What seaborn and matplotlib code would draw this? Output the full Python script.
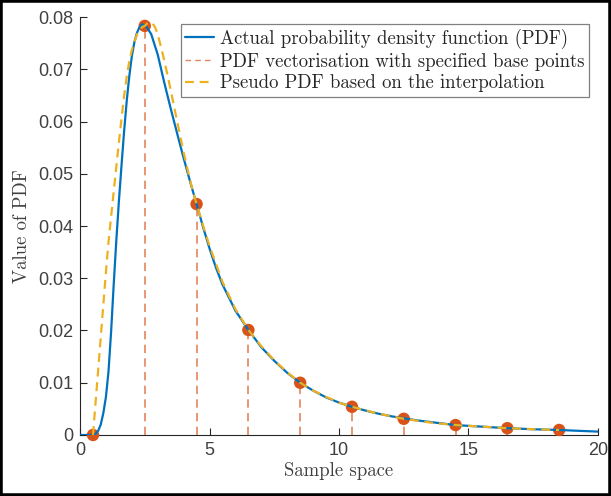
import matplotlib
matplotlib.use("Agg")
import matplotlib.pyplot as plt
import seaborn as sns
import pandas as pd
from matplotlib.lines import Line2D
from matplotlib.patches import Rectangle

# ---- data ----
pdf_x = [0.0, 0.5, 0.6, 0.7, 0.8, 0.9, 1.0, 1.1, 1.2, 1.3, 1.4, 1.5, 1.6, 1.7,
         1.8, 1.9, 2.0, 2.1, 2.2, 2.3, 2.4, 2.5, 2.6, 2.75, 3.0, 3.25, 3.5,
         3.75, 4.0, 4.25, 4.5, 4.75, 5.0, 5.25, 5.5, 6.0, 6.5, 7.0, 7.5, 8.0,
         8.5, 9.0, 9.5, 10.0, 10.5, 11.0, 11.5, 12.0, 12.5, 13.0, 13.5, 14.0,
         14.5, 15.5, 16.5, 17.5, 18.5, 19.25, 20.0]
pdf_y = [0.0, 0.0, 0.0002, 0.0008, 0.0020, 0.0042, 0.0073, 0.0122, 0.0198,
         0.0288, 0.0372, 0.0447, 0.0515, 0.0580, 0.0638, 0.0686, 0.0725,
         0.0752, 0.0770, 0.0781, 0.0786, 0.0784, 0.0779, 0.0767, 0.0728,
         0.0675, 0.0625, 0.0577, 0.0530, 0.0485, 0.0442, 0.0398, 0.0357,
         0.0320, 0.0288, 0.0238, 0.0201, 0.0168, 0.0142, 0.0119, 0.0100,
         0.0085, 0.0072, 0.0062, 0.0054, 0.0047, 0.0041, 0.0036, 0.0032,
         0.0028, 0.0025, 0.0022, 0.0019, 0.0016, 0.0013, 0.0011, 0.00096,
         0.0008, 0.00065]

interp_x = [0.5, 0.6, 0.7, 0.8, 0.9, 1.0, 1.1, 1.2, 1.3, 1.4, 1.5, 1.6, 1.7,
            1.8, 1.9, 2.0, 2.2, 2.4, 2.5, 2.6, 2.7, 2.8, 2.9, 3.0, 3.2, 3.4,
            3.6, 3.8, 4.0, 4.2, 4.35, 4.5, 4.75, 5.0, 5.5, 6.0, 6.5, 7.0, 7.5,
            8.0, 8.5, 9.0, 9.5, 10.0, 10.5, 11.5, 12.5, 13.5, 14.5, 15.5,
            16.5, 17.5, 18.5]
interp_y = [0.0, 0.0063, 0.0124, 0.0187, 0.0250, 0.0312, 0.0370, 0.0418,
            0.0466, 0.0513, 0.0560, 0.0605, 0.0648, 0.0685, 0.0715, 0.0737,
            0.0767, 0.0781, 0.0783, 0.0788, 0.0790, 0.0788, 0.0780, 0.0767,
            0.0728, 0.0684, 0.0636, 0.0588, 0.0541, 0.0498, 0.0468, 0.0442,
            0.0401, 0.0362, 0.0293, 0.0241, 0.0201, 0.0170, 0.0143, 0.0120,
            0.0100, 0.0085, 0.0073, 0.0062, 0.0054, 0.0041, 0.0031, 0.0024,
            0.0019, 0.0016, 0.0013, 0.0011, 0.00096]

base_x = [0.5, 2.5, 4.5, 6.5, 8.5, 10.5, 12.5, 14.5, 16.5, 18.5]
base_y = [0.0, 0.0783, 0.0442, 0.0201, 0.0100, 0.0054, 0.0031, 0.0019,
          0.0013, 0.00096]

x_ticks = [0, 5, 10, 15, 20]
y_ticks = [0, 0.01, 0.02, 0.03, 0.04, 0.05, 0.06, 0.07, 0.08]
y_tick_labels = ["0", "0.01", "0.02", "0.03", "0.04", "0.05", "0.06", "0.07", "0.08"]

legend_labels = ["Actual probability density function (PDF)",
                 "PDF vectorisation with specified base points",
                 "Pseudo PDF based on the interpolation"]
x_label = "Sample space"
y_label = "Value of PDF"

# ---- styling ----
sns.set_style("white")
BLUE = "#0072BD"
RED = "#D95319"
YELLOW = "#EDB120"
TICK_COL = "#404040"
SERIF = "cmr10"

fig = plt.figure(figsize=(6.11, 4.96), dpi=100)
ax = fig.add_axes([0.1310, 0.123, 0.8477, 0.8427])

pdf_df = pd.DataFrame({"x": pdf_x, "y": pdf_y})
interp_df = pd.DataFrame({"x": interp_x, "y": interp_y})
base_df = pd.DataFrame({"x": base_x, "y": base_y})

# stems
ax.vlines(base_df["x"], 0, base_df["y"], colors=RED, alpha=0.7,
          linewidth=1.2, linestyles=(0, (5, 3.2)), zorder=2)
# base point markers
sns.scatterplot(data=base_df, x="x", y="y", ax=ax, color=RED, s=80,
                edgecolor="none", zorder=3, clip_on=False, legend=False)
# actual PDF
sns.lineplot(data=pdf_df, x="x", y="y", ax=ax, color=BLUE, linewidth=1.6,
             sort=False, estimator=None, zorder=4)
# interpolation
sns.lineplot(data=interp_df, x="x", y="y", ax=ax, color=YELLOW, linewidth=1.6,
             sort=False, estimator=None, zorder=5, linestyle=(0, (4, 2.6)))

ax.set_xlim(0, 20)
ax.set_ylim(0, 0.08)
ax.set_xticks(x_ticks)
ax.set_xticklabels([str(t) for t in x_ticks])
ax.set_yticks(y_ticks)
ax.set_yticklabels(y_tick_labels)
ax.tick_params(bottom=True, left=True, top=False, right=False,
               direction="in", length=5, width=0.8, colors="#262626",
               labelcolor=TICK_COL, labelsize=13, pad=5)
for lab in ax.get_xticklabels() + ax.get_yticklabels():
    lab.set_fontfamily("Liberation Sans")

for side in ["top", "right"]:
    ax.spines[side].set_visible(False)
for side in ["left", "bottom"]:
    ax.spines[side].set_color("#262626")
    ax.spines[side].set_linewidth(0.8)

ax.set_xlabel(x_label, fontfamily=SERIF, fontsize=13.5, color=TICK_COL, labelpad=2)
ax.set_ylabel(y_label, fontfamily=SERIF, fontsize=13.5, color=TICK_COL, labelpad=5)

handles = [Line2D([], [], color=BLUE, linewidth=1.6),
           Line2D([], [], color=RED, alpha=0.7, linewidth=1.0, linestyle=(0, (4, 3))),
           Line2D([], [], color=YELLOW, linewidth=1.6, linestyle=(0, (4, 2.6)))]
leg = ax.legend(handles, legend_labels, loc="upper right",
                bbox_to_anchor=(0.983, 0.983), prop={"family": SERIF, "size": 13.5},
                frameon=True, fancybox=False, framealpha=1, edgecolor="#808080",
                handlelength=1.55, handletextpad=0.3, labelspacing=0.2,
                borderpad=0.25, borderaxespad=0)
leg.get_frame().set_linewidth(0.9)
for t in leg.get_texts():
    t.set_color("#262626")

# outer black frame of the figure
fig.patches.append(Rectangle((0, 0), 1, 1, transform=fig.transFigure,
                             fill=False, edgecolor="black", linewidth=4,
                             zorder=10))

fig.savefig("out.png", dpi=100)
